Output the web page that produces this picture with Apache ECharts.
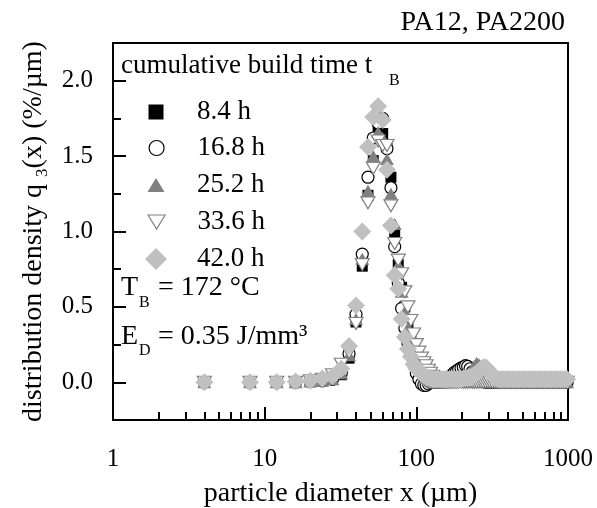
<!DOCTYPE html>
<html>
<head>
<meta charset="utf-8">
<script src="https://cdn.jsdelivr.net/npm/echarts@6/dist/echarts.min.js"></script>
<style>
html, body { margin: 0; padding: 0; background: #fff; }
#chart { width: 597px; height: 508px; }
</style>
</head>
<body>
<div id="chart"></div>
<script>
// particle diameter x (µm)
var diameters = [4, 8, 12, 16, 20, 24, 28, 32, 36, 40, 44, 48, 52, 56, 60, 64, 68, 72, 76, 80,
	84, 88, 92, 96, 100, 104, 108, 112, 116, 120, 124, 128, 132, 136, 140,
	145, 150, 155, 160, 166, 172, 178, 184, 190, 197, 204, 211, 218, 226, 234, 242, 250, 259, 268, 277,
	287, 297, 307, 318, 329, 340, 352, 364, 377, 390, 404, 418, 433, 448, 464, 480, 497, 514, 532, 551,
	570, 590, 611, 632, 654, 677, 701, 725, 750, 777, 804, 832, 861, 891, 922, 954, 987];

// distribution density q3(x) (%/µm), one list per cumulative build time
var q3_8h = [0, 0, 0, 0, 0.005, 0.01, 0.02, 0.05, 0.16, 0.40, 0.77, 1.24, 1.47, 1.67, 1.65, 1.56, 1.36, 0.98, 0.78, 0.63,
	0.50, 0.38, 0.28, 0.20, 0.15, 0.11, 0.08, 0.05, 0.03, 0.02, 0.01, 0, 0, 0, 0,
	0, 0, 0, 0, 0, 0, 0, 0, 0, 0, 0, 0, 0, 0, 0, 0, 0, 0, 0, 0,
	0, 0, 0, 0, 0, 0, 0, 0, 0, 0, 0, 0, 0, 0, 0, 0, 0, 0, 0, 0,
	0, 0, 0, 0, 0, 0, 0, 0, 0, 0, 0, 0, 0, 0, 0, 0, 0];
var q3_17h = [0, 0, 0, 0, 0.005, 0.01, 0.02, 0.06, 0.19, 0.45, 0.85, 1.36, 1.62, 1.72, 1.75, 1.55, 1.29, 0.90, 0.66, 0.49,
	0.36, 0.26, 0.18, 0.12, 0.06, 0.02, -0.01, -0.02, -0.02, -0.01, 0, 0, 0, 0, 0,
	0, 0.005, 0.01, 0.02, 0.03, 0.05, 0.065, 0.075, 0.085, 0.095, 0.10, 0.11, 0.105, 0.09, 0.07, 0.05, 0.035, 0.02, 0.01, 0.005,
	0, 0, 0, 0, 0, 0, 0, 0, 0, 0, 0, 0, 0, 0, 0, 0, 0, 0, 0, 0,
	0, 0, 0, 0, 0, 0, 0, 0, 0, 0, 0, 0, 0, 0, 0, 0, 0];
var q3_25h = [0, 0, 0, 0, 0.005, 0.01, 0.02, 0.06, 0.18, 0.42, 0.82, 1.27, 1.50, 1.66, 1.62, 1.48, 1.25, 1.05, 0.78, 0.60,
	0.47, 0.36, 0.28, 0.21, 0.16, 0.11, 0.08, 0.05, 0.03, 0.02, 0.01, 0, 0, 0, 0,
	0, 0, 0, 0, 0, 0.005, 0.01, 0.01, 0.015, 0.02, 0.03, 0.04, 0.05, 0.07, 0.09, 0.11, 0.13, 0.12, 0.10, 0.08,
	0.06, 0.04, 0.03, 0.02, 0.01, 0.005, 0, 0, 0, 0, 0, 0, 0, 0, 0, 0, 0, 0, 0, 0,
	0, 0, 0, 0, 0, 0, 0, 0, 0, 0, 0, 0, 0, 0, 0, 0, 0];
var q3_34h = [0, 0, 0, 0, 0.01, 0.02, 0.05, 0.12, 0.20, 0.39, 0.78, 1.19, 1.42, 1.60, 1.57, 1.57, 1.17, 0.92, 0.81, 0.72,
	0.60, 0.50, 0.41, 0.32, 0.25, 0.20, 0.16, 0.13, 0.11, 0.08, 0.06, 0.04, 0.03, 0.02, 0.01,
	0.005, 0, 0, 0, 0, 0, 0, 0, 0, 0, 0, 0, 0, 0, 0, 0, 0, 0, 0, 0,
	0, 0, 0, 0, 0, 0, 0, 0, 0, 0, 0, 0, 0, 0, 0, 0, 0, 0, 0, 0,
	0, 0, 0, 0, 0, 0, 0, 0, 0, 0, 0, 0, 0, 0, 0, 0, 0];
var q3_42h = [0, 0, 0, 0.005, 0.01, 0.025, 0.04, 0.09, 0.24, 0.51, 1.00, 1.56, 1.76, 1.83, 1.74, 1.41, 1.04, 0.71, 0.62, 0.42,
	0.30, 0.22, 0.17, 0.12, 0.09, 0.075, 0.06, 0.045, 0.035, 0.03, 0.025, 0.02, 0.02, 0.02, 0.02,
	0.02, 0.02, 0.02, 0.02, 0.02, 0.02, 0.02, 0.02, 0.02, 0.02, 0.025, 0.03, 0.03, 0.035, 0.04, 0.05, 0.06, 0.075, 0.09, 0.10,
	0.10, 0.085, 0.06, 0.045, 0.03, 0.025, 0.02, 0.02, 0.02, 0.02, 0.02, 0.02, 0.02, 0.02, 0.02, 0.02, 0.02, 0.02, 0.02, 0.02,
	0.02, 0.02, 0.02, 0.02, 0.02, 0.02, 0.02, 0.02, 0.02, 0.02, 0.02, 0.02, 0.02, 0.02, 0.02, 0.02, 0.02];

var seriesNames = ['8.4 h', '16.8 h', '25.2 h', '33.6 h', '42.0 h'];
var seriesValues = [q3_8h, q3_17h, q3_25h, q3_34h, q3_42h];

// axis ticks
var xMajorTicks = [1, 10, 100, 1000];
var xMinorTicks = [2, 3, 4, 5, 6, 7, 8, 9, 20, 30, 40, 50, 60, 70, 80, 90, 200, 300, 400, 500, 600, 700, 800, 900];
var yMajorTicks = [0, 0.5, 1, 1.5, 2];
var yMinorTicks = [-0.25, 0.25, 0.75, 1.25, 1.75, 2.25];

var FONT = '"Liberation Serif", "Times New Roman", serif';

// marker looks, same order as seriesNames
var markers = [
	{ symbol: 'rect', icon: 'rect', size: 11, legendSize: [15, 15], rotate: 0, style: { color: '#000', borderColor: '#000', borderWidth: 0, opacity: 1 } },
	{ symbol: 'circle', icon: 'circle', size: 12, legendSize: [15, 15], rotate: 0, style: { color: '#fff', borderColor: '#000', borderWidth: 1.2, opacity: 1 } },
	{ symbol: 'triangle', icon: 'triangle', size: [14, 12], legendSize: [17, 14], rotate: 0, style: { color: '#808080', borderColor: '#808080', borderWidth: 0, opacity: 1 } },
	{ symbol: 'triangle', icon: 'path://M0,0L20,0L10,17Z', size: [14, 12], legendSize: [17, 14], rotate: 180, style: { color: '#fff', borderColor: '#808080', borderWidth: 1.2, opacity: 1 } },
	{ symbol: 'diamond', icon: 'diamond', size: 18, legendSize: [22, 22], rotate: 0, style: { color: '#c0c0c0', borderColor: '#c0c0c0', borderWidth: 0, opacity: 1 } }
];
var legendRowY = [112, 148, 185, 222, 259];

var series = [];
var legends = [];
for (var s = 0; s < seriesNames.length; s++) {
	var m = markers[s];
	var vals = seriesValues[s];
	series.push({
		type: 'scatter',
		name: seriesNames[s],
		data: diameters.map(function(d, i){ return [d, vals[i]]; }),
		symbol: m.symbol,
		symbolSize: m.size,
		symbolRotate: m.rotate,
		itemStyle: m.style,
		xAxisIndex: 0,
		yAxisIndex: 0,
		z: 3 + s,
		silent: true
	});
	var w = m.legendSize[0], h = m.legendSize[1];
	legends.push({
		data: [{ name: seriesNames[s], icon: m.icon }],
		left: 156 - w / 2,
		top: legendRowY[s] - 13.5,
		padding: 0,
		itemWidth: w,
		itemHeight: h,
		symbolKeepAspect: false,
		selectedMode: false,
		itemStyle: { color: m.style.color, borderColor: m.style.borderColor, borderWidth: m.style.borderWidth, opacity: 1 },
		textStyle: { fontFamily: FONT, fontSize: 27, color: '#000', padding: [0, 0, 0, 36 - w / 2] }
	});
}

function plainText(x, y, str, size, align){
	return {
		type: 'text', x: x, y: y, silent: true,
		style: { text: str, fontFamily: FONT, fontSize: size, fill: '#000', align: align || 'left', verticalAlign: 'middle' }
	};
}

var axisLine = { show: true, onZero: false, lineStyle: { color: '#000', width: 2 } };
// ticks point outward in the reference; this build draws them flipped unless "inside" is set
var TICKS_OUT = true;

var chart = echarts.init(document.getElementById('chart'), null, { renderer: 'canvas' });
var option = {
	animation: false,
	backgroundColor: '#fff',
	grid: {
		left: 113, right: 29, top: 43, bottom: 88,
		show: true, borderColor: '#000', borderWidth: 2, backgroundColor: 'transparent',
		containLabel: false, outerBoundsMode: 'none'
	},
	legend: legends,
	xAxis: [
		{
			type: 'log', logBase: 10, min: 1, max: 1000, position: 'bottom',
			axisLine: axisLine,
			axisTick: { show: true, inside: TICKS_OUT, customValues: xMajorTicks, length: 13, lineStyle: { color: '#000', width: 2 } },
			axisLabel: {
				inside: false, customValues: xMajorTicks, margin: 27, color: '#000', fontFamily: FONT, fontSize: 25,
				formatter: function(v){ return String(v); }
			},
			splitLine: { show: false },
			name: 'particle diameter x (µm)', nameLocation: 'middle', nameGap: 60,
			nameTextStyle: { fontFamily: FONT, fontSize: 28, color: '#000' }
		},
		{
			type: 'log', logBase: 10, min: 1, max: 1000, position: 'bottom',
			axisLine: axisLine,
			axisTick: { show: true, inside: TICKS_OUT, customValues: xMinorTicks, length: 8, lineStyle: { color: '#000', width: 2 } },
			axisLabel: { show: false },
			splitLine: { show: false }
		}
	],
	yAxis: [
		{
			type: 'value', min: -0.25, max: 2.25, position: 'left',
			axisLine: axisLine,
			axisTick: { show: true, inside: TICKS_OUT, customValues: yMajorTicks, length: 13, lineStyle: { color: '#000', width: 2 } },
			axisLabel: {
				inside: false, customValues: yMajorTicks, margin: 20, color: '#000', fontFamily: FONT, fontSize: 25,
				formatter: function(v){ return v.toFixed(1); }
			},
			splitLine: { show: false },
			name: 'distribution density q {s|3}(x) (%/µm)', nameLocation: 'middle', nameGap: 58,
			nameTextStyle: {
				fontFamily: FONT, fontSize: 28, color: '#000',
				rich: { s: { fontFamily: FONT, fontSize: 17, color: '#000', verticalAlign: 'bottom', padding: [18, 0, 0, 0] } }
			}
		},
		{
			type: 'value', min: -0.25, max: 2.25, position: 'left',
			axisLine: axisLine,
			axisTick: { show: true, inside: TICKS_OUT, customValues: yMinorTicks, length: 8, lineStyle: { color: '#000', width: 2 } },
			axisLabel: { show: false },
			splitLine: { show: false }
		}
	],
	graphic: [
		plainText(565, 23, 'PA12, PA2200', 28, 'right'),
		plainText(121, 66, 'cumulative build time t', 27),
		plainText(389, 81, 'B', 16),
		plainText(121, 288, 'T', 28),
		plainText(139, 303, 'B', 16),
		plainText(158, 288, '= 172 °C', 28),
		plainText(121, 337, 'E', 28),
		plainText(139, 351, 'D', 16),
		plainText(158, 337, '= 0.35 J/mm³', 28)
	],
	series: series
};
chart.setOption(option);
</script>
</body>
</html>
